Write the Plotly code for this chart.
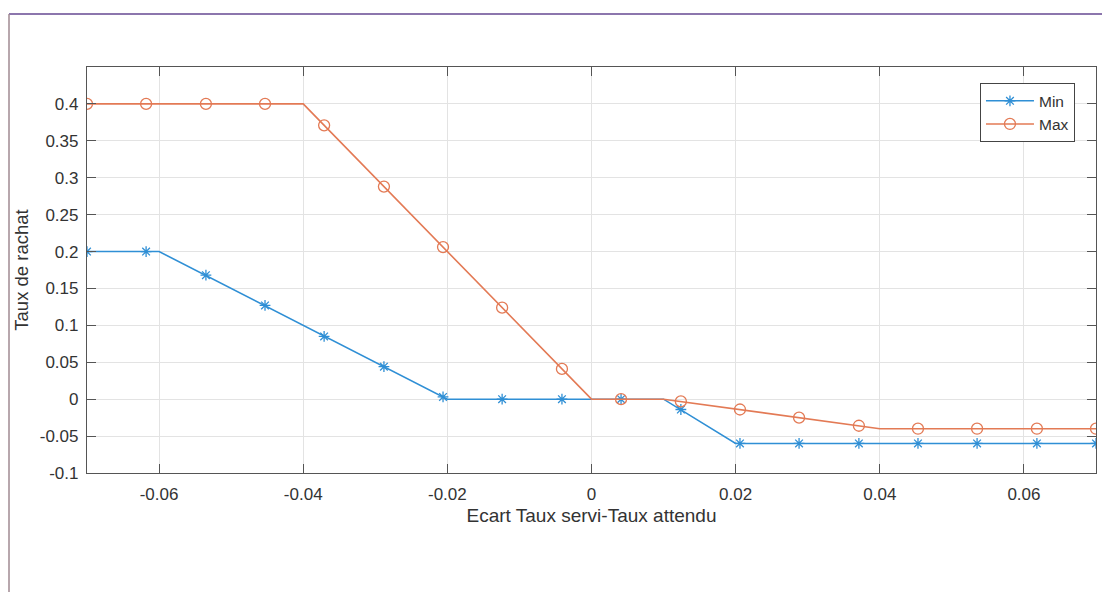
import plotly.graph_objects as go

# Marker positions
x_markers = [-0.07, -0.0618, -0.0535, -0.0453, -0.0371, -0.0288, -0.0206, -0.0124, -0.0041,
             0.0041, 0.0124, 0.0206, 0.0288, 0.0371, 0.0453, 0.0535, 0.0618, 0.07]
min_markers = [0.2, 0.2, 0.168, 0.127, 0.085, 0.044, 0.003, 0.0, 0.0,
               0.0, -0.014, -0.06, -0.06, -0.06, -0.06, -0.06, -0.06, -0.06]
max_markers = [0.4, 0.4, 0.4, 0.4, 0.371, 0.288, 0.206, 0.124, 0.041,
               0.0, -0.003, -0.014, -0.025, -0.036, -0.04, -0.04, -0.04, -0.04]

# Line vertices (break points of the curves)
min_line_x = [-0.07, -0.06, -0.02, 0.01, 0.02, 0.07]
min_line_y = [0.2, 0.2, 0.0, 0.0, -0.06, -0.06]
max_line_x = [-0.07, -0.04, 0.0, 0.01, 0.04, 0.07]
max_line_y = [0.4, 0.4, 0.0, 0.0, -0.04, -0.04]

series_names = ["Min", "Max"]
x_ticks = [-0.06, -0.04, -0.02, 0, 0.02, 0.04, 0.06]
x_tick_labels = ["-0.06", "-0.04", "-0.02", "0", "0.02", "0.04", "0.06"]
y_ticks = [-0.1, -0.05, 0, 0.05, 0.1, 0.15, 0.2, 0.25, 0.3, 0.35, 0.4]
y_tick_labels = ["-0.1", "-0.05", "0", "0.05", "0.1", "0.15", "0.2", "0.25", "0.3", "0.35", "0.4"]

BLUE = "#2f8fd5"
ORANGE = "#e37a55"
TXT = "#333333"
FONT = "Liberation Sans, Arial, sans-serif"

fig = go.Figure()

specs = [
    (series_names[0], min_line_x, min_line_y, min_markers, BLUE, "asterisk-open", 9),
    (series_names[1], max_line_x, max_line_y, max_markers, ORANGE, "circle-open", 11),
]
for name, lx, ly, my, col, sym, sz in specs:
    fig.add_trace(go.Scatter(x=lx, y=ly, mode="lines", line=dict(color=col, width=1.6),
                             showlegend=False, legendgroup=name, hoverinfo="skip"))
    fig.add_trace(go.Scatter(x=x_markers, y=my, mode="markers",
                             marker=dict(symbol=sym, size=sz, color=col, line=dict(color=col, width=1.3)),
                             showlegend=False, legendgroup=name, name=name))
    fig.add_trace(go.Scatter(x=[None], y=[None], mode="lines+markers", name=name,
                             line=dict(color=col, width=1.6),
                             marker=dict(symbol=sym, size=sz, color=col, line=dict(color=col, width=1.3)),
                             legendgroup=name))

axis_common = dict(
    showline=True, linecolor="#555555", linewidth=1.2, mirror="ticks",
    ticks="inside", ticklen=9, tickcolor="#555555", tickwidth=1.2,
    showgrid=True, gridcolor="#e3e3e3", gridwidth=1, zeroline=False,
    tickfont=dict(family=FONT, size=17, color=TXT),
)

fig.update_xaxes(range=[-0.07, 0.07], tickvals=x_ticks, ticktext=x_tick_labels,
                 ticklabelstandoff=5,
                 title=dict(text="Ecart Taux servi-Taux attendu", font=dict(family=FONT, size=19, color=TXT), standoff=6),
                 **axis_common)
fig.update_yaxes(range=[-0.1, 0.45], tickvals=y_ticks, ticktext=y_tick_labels,
                 ticklabelstandoff=4,
                 title=dict(text="Taux de rachat", font=dict(family=FONT, size=18.5, color=TXT), standoff=6),
                 **axis_common)

# Purple frame around the figure region
fig.add_shape(type="line", xref="paper", yref="paper", x0=-0.0773, x1=1.02, y0=1.1305, y1=1.1305,
              line=dict(color="#8c76ad", width=2))
fig.add_shape(type="line", xref="paper", yref="paper", x0=-0.0773, x1=-0.0773, y0=1.1305, y1=-0.32,
              line=dict(color="#a08a92", width=1.5))

fig.update_layout(
    width=1102, height=592,
    margin=dict(l=87, r=6, t=67, b=119),
    paper_bgcolor="white", plot_bgcolor="white",
    font=dict(family=FONT, size=15, color=TXT),
    legend=dict(x=0.885, y=0.96, xanchor="left", yanchor="top",
                bgcolor="white", bordercolor="#444444", borderwidth=1,
                font=dict(family=FONT, size=15.5, color=TXT),
                tracegroupgap=0, itemwidth=48),
    showlegend=True,
)

fig.write_html("out.html", config={"displayModeBar": False},
               post_script="document.body.style.margin='0';document.body.style.overflow='hidden';")
